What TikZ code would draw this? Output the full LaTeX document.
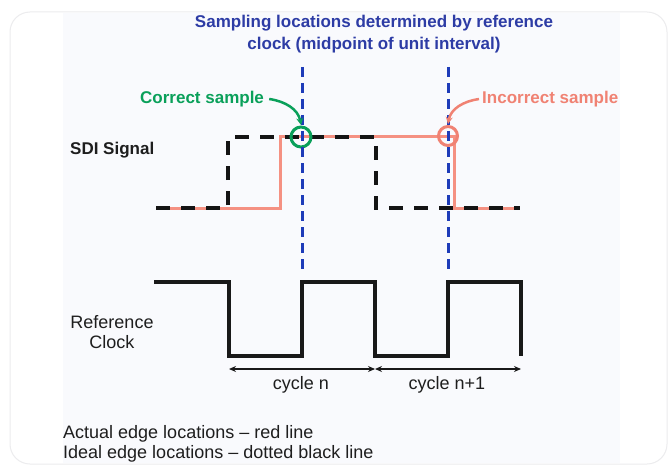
\documentclass[tikz,border=0pt]{standalone}
\usepackage{fontspec}
\setmainfont{Liberation Sans}
\usetikzlibrary{arrows.meta}
\definecolor{ttlblue}{RGB}{45,60,165}
\definecolor{lnblue}{RGB}{30,60,185}
\definecolor{okgreen}{RGB}{10,160,90}
\definecolor{salmon}{RGB}{240,130,115}
\definecolor{redln}{RGB}{245,145,130}
\definecolor{txt}{RGB}{30,30,30}
\definecolor{panel}{RGB}{249,250,253}
\definecolor{framecol}{RGB}{236,236,238}
\begin{document}
\begin{tikzpicture}[x=1pt,y=-1pt,
  lbl/.style={inner sep=0pt, text=txt, font=\fontsize{18}{20}\selectfont},
  bl/.style={inner sep=0pt, font=\bfseries\fontsize{17}{22}\selectfont},
  sigdash/.style={line width=3.5pt, dash pattern=on 14pt off 11pt, line join=miter, black!92},
  redsig/.style={redln, line width=3pt, line join=miter},
  clk/.style={line width=3.5pt, line join=miter, black!90},
  blueline/.style={lnblue, line width=3pt, dash pattern=on 10pt off 6pt},
  ring/.style={circle, line width=3pt, inner sep=0pt, minimum size=20pt},
  callout/.style={line width=2.5pt, -{Stealth[length=7pt,width=7pt]}},
  span/.style={line width=1.8pt, black!90, {Stealth[length=7pt,width=6pt]}-{Stealth[length=7pt,width=6pt]}}
]
\useasboundingbox (0,0) rectangle (668,465);
\fill[white] (0,0) rectangle (668,465);
\begin{scope}
  \clip (0,0) rectangle (668,465);
  \draw[framecol, fill=white, rounded corners=20pt, line width=1pt] (10,12) rectangle (667,464);
  \fill[panel] (63,13) rectangle (620,463);
\end{scope}

% title
\node[bl, text=ttlblue, align=center] (title) at (374,34) {Sampling locations determined by reference\\clock (midpoint of unit interval)};

% waveform coordinates
\coordinate (r0) at (156,208);
\coordinate (r1) at (280,208);
\coordinate (r2) at (280,137);
\coordinate (r3) at (454,137);
\coordinate (r4) at (454,208);
\coordinate (r5) at (520,208);
\coordinate (k0) at (156,208);
\coordinate (k1) at (228,208);
\coordinate (k2) at (228,137);
\coordinate (k3) at (376,137);
\coordinate (k4) at (376,208);
\coordinate (k5) at (520,208);

% actual (red) signal
\draw[redsig] (r0) -- (r1) -- (r2) -- (r3) -- (r4) -- (r5);
% ideal (black dashed) signal
\draw[sigdash] (k0) -- (k1) -- (k2) -- (k3) -- (k4) -- (k5);

% reference clock
\coordinate (c0) at (154,282);
\coordinate (c1) at (229,282);
\coordinate (c2) at (229,356);
\coordinate (c3) at (302,356);
\coordinate (c4) at (302,282);
\coordinate (c5) at (375,282);
\coordinate (c6) at (375,356);
\coordinate (c7) at (448,356);
\coordinate (c8) at (448,282);
\coordinate (c9) at (521,282);
\coordinate (c10) at (521,356);
\draw[clk] (c0) -- (c1) -- (c2) -- (c3) -- (c4) -- (c5) -- (c6) -- (c7) -- (c8) -- (c9) -- (c10);

% sample rings
\node[ring, draw=okgreen] (gring) at (301,137) {};
\node[ring, draw=salmon, minimum size=19pt] (rring) at (448,136) {};

% sampling lines
\coordinate (s1top) at (302,67);
\coordinate (s1bot) at (302,275);
\coordinate (s2top) at (448,67);
\coordinate (s2bot) at (448,275);
\draw[blueline] (s1top) -- (s1bot);
\draw[blueline] (s2top) -- (s2bot);

% callouts
\node[bl, text=okgreen, anchor=west] (cs) at (140,99) {Correct sample};
\node[bl, text=salmon, anchor=west] (ics) at (482,99) {Incorrect sample};
\coordinate (gtip) at (301,125);
\coordinate (rtip) at (448,124);
\draw[callout, okgreen] ([xshift=5pt]cs.east) to[out=-8, in=100] (gtip);
\draw[callout, salmon] ([xshift=-3pt]ics.west) to[out=188, in=80] (rtip);

% labels
\node[bl, text=txt, anchor=west] (sdi) at (70,150) {SDI Signal};
\node[lbl, align=center] (ref) at (112,332) {Reference\\Clock};

% cycle spans
\coordinate (a0) at (229,369);
\coordinate (a1) at (375,369);
\coordinate (a2) at (521,369);
\draw[span] (a0) -- (a1);
\draw[span] (a1) -- (a2);
\node[lbl] (cyn) at (301,385) {cycle n};
\node[lbl] (cyn1) at (447,385) {cycle n+1};

% legend
\node[lbl, anchor=west] (leg1) at (63,434) {Actual edge locations – red line};
\node[lbl, anchor=west] (leg2) at (63,454) {Ideal edge locations – dotted black line};
\end{tikzpicture}
\end{document}
